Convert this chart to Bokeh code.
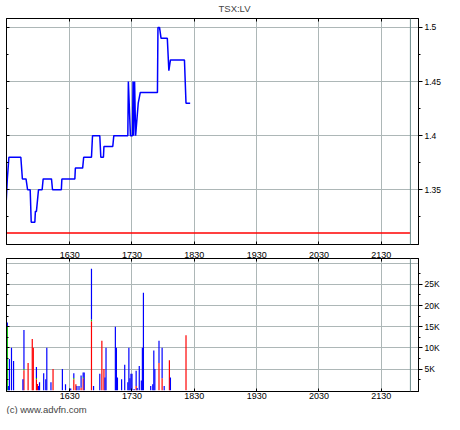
from bokeh.plotting import figure
from bokeh.models import (LinearAxis, FixedTicker, CustomJSTickFormatter, Range1d,
                          Span, Title, ColumnDataSource, CustomLabelingPolicy)
from bokeh.layouts import column
from bokeh.embed import file_html
from bokeh.resources import INLINE

# ---------------- data (time in minutes after midnight) ----------------
price_times = [929, 930, 931.5, 943, 944.5, 948, 949.5, 952, 953, 956.5, 957, 958,
               960, 963.5, 964.5, 972.5, 973.5, 982, 982.5, 995, 995.5, 1002.5,
               1003.5, 1011, 1012, 1019, 1020, 1022.5, 1023, 1031.5, 1032.5, 1046,
               1046.5, 1048.5, 1050.5, 1051, 1051.5, 1052.5, 1053.5, 1056, 1058,
               1074.5, 1075, 1076.5, 1078, 1084, 1085.5, 1087, 1100.5, 1102, 1106]
price_values = [1.34, 1.36, 1.38, 1.38, 1.36, 1.36, 1.35, 1.35, 1.32, 1.32, 1.33, 1.33,
                1.35, 1.35, 1.36, 1.36, 1.35, 1.35, 1.36, 1.36, 1.37, 1.37,
                1.38, 1.38, 1.40, 1.40, 1.38, 1.38, 1.39, 1.39, 1.40, 1.40,
                1.45, 1.40, 1.40, 1.45, 1.40, 1.45, 1.40, 1.43, 1.44,
                1.44, 1.50, 1.50, 1.49, 1.49, 1.46, 1.47, 1.47, 1.43, 1.43]
prev_close = 1.31
session_end = 1318

vol_times = [930, 931, 932, 934, 936, 945, 946, 950, 954, 955, 958, 959, 960, 961,
             965, 967, 968, 972, 974, 983, 986, 990, 991, 994, 996, 997, 999, 1001,
             1003, 1004, 1011, 1013, 1019, 1021, 1023, 1024, 1025, 1034, 1035, 1036,
             1040, 1043, 1046, 1047, 1048, 1049, 1050, 1052, 1054, 1055, 1057, 1059,
             1060, 1061, 1068, 1070, 1071, 1072, 1076, 1079, 1081, 1086, 1087, 1102]
vol_red = [0, 0, 0, 0, 0, 0, 4700, 6400, 12100, 10000, 2600, 1500, 0, 0,
           0, 0, 0, 0, 5000, 0, 0, 0, 0, 2600, 1400, 0, 0, 600,
           2800, 0, 16300, 0, 0, 11700, 5000, 0, 0, 0, 0, 0,
           0, 0, 0, 0, 0, 0, 0, 0, 1000, 0, 0, 0,
           0, 0, 0, 0, 0, 0, 6400, 2800, 0, 7100, 0, 13000]
vol_green = [15000, 0, 0, 0, 0, 0, 300, 0, 0, 0, 300, 0, 0, 0,
             0, 0, 0, 0, 0, 0, 0, 0, 0, 300, 0, 0, 0, 0,
             300, 0, 400, 0, 0, 0, 0, 0, 0, 0, 0, 0,
             0, 0, 0, 0, 0, 0, 0, 0, 0, 0, 0, 0,
             0, 0, 0, 0, 0, 0, 0, 0, 0, 0, 0, 0]
vol_blue = [1000, 1000, 7400, 10000, 6900, 2600, 9200, 0, 0, 0, 2600, 0, 1000, 1900,
            4000, 2600, 10000, 1900, 0, 5000, 1400, 400, 400, 1100, 0, 1000, 1000, 2900,
            1100, 4200, 12000, 1000, 3900, 0, 0, 3000, 10000, 15000, 10000, 3000,
            2600, 6000, 1900, 10000, 2800, 3900, 3900, 300, 3600, 500, 5700, 2300,
            10000, 23000, 1000, 1400, 9400, 5000, 5300, 7200, 1000, 0, 3000, 0]

time_ticks = [990, 1050, 1110, 1170, 1230, 1290]
time_labels = ["1630", "1730", "1830", "1930", "2030", "2130"]
price_ticks = [1.35, 1.4, 1.45, 1.5]
price_minor = [1.325, 1.375, 1.425, 1.475]
vol_ticks = [5000, 10000, 15000, 20000, 25000]
vol_grid = [5000, 10000, 15000, 20000, 25000, 30000]
vol_minor = [2500, 7500, 12500, 17500, 22500, 27500]

title_text = "TSX:LV"
credit_text = "(c) www.advfn.com"

# ---------------- styling ----------------
FONT = "Liberation Sans"
GRID = "#adb7b7"
x_range = Range1d(929.2, 1325.8)

time_fmt = CustomJSTickFormatter(args=dict(tvals=time_ticks, tlabels=time_labels),
                                 code="const i = tvals.indexOf(tick); return i >= 0 ? tlabels[i] : '';")
price_fmt = CustomJSTickFormatter(code="return String(parseFloat(tick.toFixed(3)));")
vol_fmt = CustomJSTickFormatter(code="return (tick / 1000) + 'K';")


def no_labels():
    return CustomLabelingPolicy(code="for (const i of indices) { if (i < 0) { yield i } }")


def style_axis(ax, show_labels, tick_in, tick_out, minor_in=0, minor_out=0):
    ax.axis_line_color = "black"
    ax.major_tick_line_color = "black"
    ax.minor_tick_line_color = "black"
    ax.major_tick_in = tick_in
    ax.major_tick_out = tick_out
    ax.minor_tick_in = minor_in
    ax.minor_tick_out = minor_out
    ax.major_label_text_font = FONT
    ax.major_label_text_color = "black"
    ax.major_label_standoff = 2
    ax.major_label_text_font_size = "8.5px"
    if not show_labels:
        ax.major_label_text_font_size = "1px"
        ax.major_label_standoff = 0
        ax.major_label_policy = no_labels()


def base_fig(height, y_range, border_bottom):
    p = figure(width=444, height=height, x_range=x_range, y_range=y_range,
               output_backend="svg", toolbar_location=None,
               y_axis_location="right", min_border_left=3, min_border_right=24,
               min_border_top=0, min_border_bottom=border_bottom)
    p.outline_line_color = "black"
    p.outline_line_width = 1
    p.background_fill_color = "white"
    p.border_fill_color = "white"
    p.xgrid.grid_line_color = GRID
    p.ygrid.grid_line_color = GRID
    p.xaxis.ticker = FixedTicker(ticks=time_ticks)
    p.xaxis.formatter = time_fmt
    return p


# ---------------- price panel ----------------
p1 = base_fig(248, Range1d(1.2994, 1.5083), 0)
p1.yaxis.ticker = FixedTicker(ticks=price_ticks, minor_ticks=price_minor)
p1.yaxis.formatter = price_fmt
style_axis(p1.yaxis[0], True, 0, 4, 0, 2)
style_axis(p1.xaxis[0], False, 3, 0)
left1 = LinearAxis(ticker=FixedTicker(ticks=price_ticks, minor_ticks=price_minor))
style_axis(left1, False, 3, 0, 2, 0)
p1.add_layout(left1, "left")
top1 = LinearAxis(ticker=FixedTicker(ticks=time_ticks))
style_axis(top1, False, 3, 0)
p1.add_layout(top1, "above")

p1.title.text = title_text
p1.title.align = "left"
p1.title.offset = 212
p1.title.text_font = FONT
p1.title.text_font_size = "9.5px"
p1.title.text_font_style = "normal"
p1.title.standoff = 1

p1.add_layout(Span(location=session_end, dimension="height", line_color="#6a8a8a", line_width=1))
p1.line([price_times[0], session_end], [prev_close, prev_close], line_color="#ff0000", line_width=1.5)
p1.line(price_times, price_values, line_color="#0000ff", line_width=1.5)

# ---------------- volume panel ----------------
p2 = base_fig(166, Range1d(-300, 31100), 0)
p2.yaxis.ticker = FixedTicker(ticks=vol_ticks, minor_ticks=vol_minor)
p2.yaxis.formatter = vol_fmt
p2.ygrid.ticker = FixedTicker(ticks=vol_grid)
style_axis(p2.yaxis[0], True, 0, 4, 0, 2)
style_axis(p2.xaxis[0], True, 3, 0)
p2.xaxis.major_label_text_font_size = "9px"
p2.xaxis.major_label_standoff = 1
left2 = LinearAxis(ticker=FixedTicker(ticks=vol_ticks, minor_ticks=vol_minor))
style_axis(left2, False, 3, 0, 2, 0)
p2.add_layout(left2, "left")
top2 = LinearAxis(ticker=FixedTicker(ticks=time_ticks), formatter=time_fmt)
style_axis(top2, True, 3, 0)
top2.major_label_text_font_size = "9px"
top2.major_label_standoff = 1
p2.add_layout(top2, "above")

p2.add_layout(Span(location=session_end, dimension="height", line_color="#6a8a8a", line_width=1))

src = ColumnDataSource(dict(t=vol_times, red=vol_red, green=vol_green, blue=vol_blue))
p2.vbar_stack(["red", "green", "blue"], x="t", width=1.15, source=src,
              color=["#ff0000", "#00c000", "#0000ff"], line_width=0)

credit = Title(text=credit_text, align="left", text_font=FONT, text_font_size="9.5px",
               text_font_style="normal", standoff=0)
p2.add_layout(credit, "below")

layout = column(p1, p2, spacing=0)
open("out.html", "w").write(file_html(layout, INLINE))
